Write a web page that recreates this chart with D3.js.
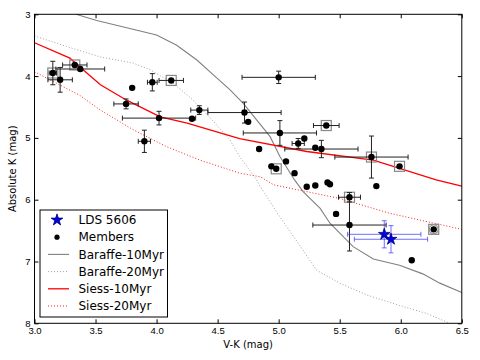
<!DOCTYPE html>
<html>
<head>
<meta charset="utf-8">
<script src="https://cdn.jsdelivr.net/npm/d3@7"></script>
<style>
  body { margin: 0; background: #fff; }
  svg { font-family: "DejaVu Sans", sans-serif; }
</style>
</head>
<body>
<div id="chart"></div>
<script>
// isochrones
const baraffe10X = [3.34, 3.51, 4.0, 4.165, 4.33, 4.465, 4.6, 4.71, 4.93, 5.01, 5.13, 5.2, 5.34, 5.42, 5.61, 5.775, 5.99, 6.18, 6.32, 6.5];
const baraffe10Y = [3.0, 3.1, 3.335, 3.5, 3.74, 3.98, 4.22, 4.44, 4.98, 5.3, 5.68, 5.87, 6.14, 6.38, 6.76, 6.96, 7.06, 7.2, 7.35, 7.5];
const baraffe20X = [3.0, 3.26, 3.54, 3.81, 3.95, 4.14, 4.3, 4.46, 4.6, 4.68, 4.82, 4.85, 5.01, 5.18, 5.31, 5.5, 5.72, 5.97, 6.21, 6.4];
const baraffe20Y = [3.35, 3.52, 3.69, 3.79, 3.9, 4.12, 4.39, 4.72, 5.03, 5.3, 5.68, 5.79, 6.28, 6.76, 7.14, 7.35, 7.54, 7.7, 7.84, 8.0];
const siess10X = [3.0, 3.29, 3.4, 3.54, 3.755, 4.03, 4.25, 4.68, 5.23, 5.775, 6.29, 6.5];
const siess10Y = [3.46, 3.71, 3.9, 4.14, 4.39, 4.66, 4.76, 5.01, 5.22, 5.36, 5.68, 5.78];
const siess20X = [3.0, 3.37, 3.54, 3.81, 4.08, 4.355, 4.68, 4.85, 4.96, 5.5, 5.91, 6.5];
const siess20Y = [3.93, 4.31, 4.55, 4.87, 5.14, 5.36, 5.57, 5.63, 5.76, 5.98, 6.22, 6.48];

// members: V-K, abs K, errors, boxed flag
const memberVK   = [3.15, 3.21, 3.33, 3.375, 3.80, 3.75, 3.965, 4.12, 4.02, 4.29, 3.90, 4.35, 4.72, 5.00, 4.75, 5.39, 5.01, 4.84, 5.21, 5.16, 5.30, 5.35, 5.76, 5.99, 4.94, 4.98, 5.06, 5.13, 5.23, 5.30, 5.40, 5.42, 5.80, 5.58, 5.47, 5.58, 6.09, 6.27];
const memberK    = [3.95, 4.06, 3.82, 3.885, 4.19, 4.45, 4.10, 4.07, 4.68, 4.69, 5.055, 4.55, 4.59, 4.02, 4.74, 4.80, 4.92, 5.18, 5.01, 5.09, 5.16, 5.18, 5.31, 5.46, 5.46, 5.50, 5.38, 5.57, 5.79, 5.77, 5.72, 5.75, 5.78, 5.96, 6.23, 6.41, 6.98, 6.48];
const memberVKerr = [0.03, 0.10, 0.10, 0.20, 0, 0.10, 0.04, 0.10, 0.30, 0, 0.05, 0.07, 0.30, 0.30, 0, 0.105, 0.30, 0, 0, 0.05, 0, 0.30, 0.30, 0, 0, 0, 0, 0, 0, 0, 0, 0, 0, 0.09, 0, 0.30, 0, 0];
const memberKerr  = [0.19, 0.20, 0, 0, 0, 0.08, 0.14, 0, 0.11, 0, 0.18, 0.07, 0.17, 0.10, 0, 0, 0.20, 0, 0, 0.08, 0, 0.14, 0.34, 0, 0, 0, 0, 0, 0, 0, 0, 0, 0, 0.075, 0, 0.42, 0, 0];
const memberBoxed = [1, 0, 1, 0, 0, 0, 0, 1, 0, 0, 0, 0, 0, 0, 0, 1, 0, 0, 0, 0, 0, 0, 1, 1, 0, 1, 0, 0, 0, 0, 0, 0, 0, 1, 0, 0, 0, 1];
const ringedIdx = [37];

// LDS 5606 pair
const ldsVK = [5.865, 5.92];
const ldsK = [6.56, 6.64];
const ldsVKerr = [0.30, 0.30];
const ldsKerr = [0.22, 0.22];

const xTicks = [3.0, 3.5, 4.0, 4.5, 5.0, 5.5, 6.0, 6.5];
const yTicks = [3, 4, 5, 6, 7, 8];

const legendLabels = ["LDS 5606", "Members", "Baraffe-10Myr", "Baraffe-20Myr", "Siess-10Myr", "Siess-20Myr"];

const W = 480, H = 360;
const margin = {top: 14.3, right: 18.2, bottom: 36.7, left: 34.5};
const iw = W - margin.left - margin.right,
      ih = H - margin.top - margin.bottom;

const svg = d3.select("#chart").append("svg")
    .attr("width", W)
    .attr("height", H);

const g = svg.append("g")
    .attr("transform", "translate(" + margin.left + "," + margin.top + ")");

const x = d3.scaleLinear().domain([3, 6.5]).range([0, iw]);
const y = d3.scaleLinear().domain([3, 8]).range([0, ih]);

svg.append("defs").append("clipPath").attr("id", "clip")
  .append("rect").attr("width", iw).attr("height", ih);

const plot = g.append("g").attr("clip-path", "url(#clip)");

// isochrone curves
const line = d3.line().x(d => x(d[0])).y(d => y(d[1]));
const curves = [
  {xs: baraffe10X, ys: baraffe10Y, color: "#808080", dash: null, w: 1.1},
  {xs: baraffe20X, ys: baraffe20Y, color: "#a0a0a0", dash: "1,2", w: 1},
  {xs: siess10X, ys: siess10Y, color: "#ff0000", dash: null, w: 1.3},
  {xs: siess20X, ys: siess20Y, color: "#ff2020", dash: "1,2", w: 1}
];
curves.forEach(function(c) {
  plot.append("path")
    .datum(d3.zip(c.xs, c.ys))
    .attr("d", line)
    .attr("fill", "none")
    .attr("stroke", c.color)
    .attr("stroke-width", c.w)
    .attr("stroke-dasharray", c.dash);
});

const members = memberVK.map(function(v, i) {
  return {vk: v, k: memberK[i], ex: memberVKerr[i], ey: memberKerr[i], boxed: memberBoxed[i], ringed: ringedIdx.includes(i)};
});

// gray square markers
plot.selectAll(".box")
  .data(members.filter(d => d.boxed))
  .enter().append("rect")
  .attr("class", "box")
  .attr("x", d => x(d.vk) - 5)
  .attr("y", d => y(d.k) - 5)
  .attr("width", 10)
  .attr("height", 10)
  .attr("fill", "none")
  .attr("stroke", "#888")
  .attr("stroke-width", 1.2);

plot.selectAll(".ring")
  .data(members.filter(d => d.ringed))
  .enter().append("circle")
  .attr("cx", d => x(d.vk))
  .attr("cy", d => y(d.k))
  .attr("r", 4.5)
  .attr("fill", "none")
  .attr("stroke", "#999")
  .attr("stroke-width", 1.5);

function errorBars(sel, data, color) {
  const cap = 2.5;
  data.forEach(function(d) {
    const cx = x(d.vk), cy = y(d.k);
    if (d.ex > 0) {
      const x0 = x(d.vk - d.ex), x1 = x(d.vk + d.ex);
      sel.append("line").attr("x1", x0).attr("x2", x1).attr("y1", cy).attr("y2", cy);
      sel.append("line").attr("x1", x0).attr("x2", x0).attr("y1", cy - cap).attr("y2", cy + cap);
      sel.append("line").attr("x1", x1).attr("x2", x1).attr("y1", cy - cap).attr("y2", cy + cap);
    }
    if (d.ey > 0) {
      const y0 = y(d.k - d.ey), y1 = y(d.k + d.ey);
      sel.append("line").attr("x1", cx).attr("x2", cx).attr("y1", y0).attr("y2", y1);
      sel.append("line").attr("x1", cx - cap).attr("x2", cx + cap).attr("y1", y0).attr("y2", y0);
      sel.append("line").attr("x1", cx - cap).attr("x2", cx + cap).attr("y1", y1).attr("y2", y1);
    }
  });
  sel.selectAll("line").attr("stroke", color).attr("stroke-width", 1);
}

errorBars(plot.append("g"), members, "#222");

plot.selectAll(".dot")
  .data(members)
  .enter().append("circle")
  .attr("class", "dot")
  .attr("cx", d => x(d.vk))
  .attr("cy", d => y(d.k))
  .attr("r", 3.2)
  .attr("fill", "#000");

const lds = ldsVK.map(function(v, i) {
  return {vk: v, k: ldsK[i], ex: ldsVKerr[i], ey: ldsKerr[i]};
});
errorBars(plot.append("g"), lds, "rgba(60,60,255,0.75)");

const star = d3.symbol().type(d3.symbolStar).size(42);
plot.selectAll(".star")
  .data(lds)
  .enter().append("path")
  .attr("d", star)
  .attr("transform", d => "translate(" + x(d.vk) + "," + y(d.k) + ")")
  .attr("fill", "#0000e0")
  .attr("stroke", "#000080")
  .attr("stroke-width", 0.8);

// axes with inward ticks
function styleAxis(sel) {
  sel.select(".domain").remove();
  sel.selectAll("line").attr("stroke", "#000");
  sel.selectAll("text").attr("font-size", "9.5px").attr("fill", "#000");
}
g.append("g").attr("transform", "translate(0," + ih + ")")
  .call(d3.axisBottom(x).tickValues(xTicks).tickFormat(d3.format(".1f")).tickSizeInner(-4).tickSizeOuter(0).tickPadding(4))
  .call(styleAxis);
g.append("g")
  .call(d3.axisTop(x).tickValues(xTicks).tickFormat("").tickSizeInner(-4).tickSizeOuter(0))
  .call(styleAxis);
g.append("g")
  .call(d3.axisLeft(y).tickValues(yTicks).tickFormat(d3.format("d")).tickSizeInner(-4).tickSizeOuter(0).tickPadding(4))
  .call(styleAxis);
g.append("g").attr("transform", "translate(" + iw + ",0)")
  .call(d3.axisRight(y).tickValues(yTicks).tickFormat("").tickSizeInner(-4).tickSizeOuter(0))
  .call(styleAxis);

g.append("rect")
  .attr("width", iw).attr("height", ih)
  .attr("fill", "none").attr("stroke", "#000").attr("stroke-width", 1);

svg.append("text")
  .attr("x", margin.left + iw / 2)
  .attr("y", 348)
  .attr("text-anchor", "middle")
  .attr("font-size", "10px")
  .text("V-K (mag)");

svg.append("text")
  .attr("transform", "translate(16," + (margin.top + ih / 2) + ") rotate(-90)")
  .attr("text-anchor", "middle")
  .attr("font-size", "10px")
  .text("Absolute K (mag)");

// legend
const lg = svg.append("g").attr("transform", "translate(40,210)");
lg.append("rect").attr("width", 127.5).attr("height", 107)
  .attr("fill", "#fff").attr("stroke", "#000").attr("stroke-width", 1);
const rowY = i => 10 + i * 17.2;
legendLabels.forEach(function(lab, i) {
  lg.append("text")
    .attr("x", 38.5)
    .attr("y", rowY(i))
    .attr("dy", "0.35em")
    .attr("font-size", "12px")
    .text(lab);
});
lg.append("path")
  .attr("d", star)
  .attr("transform", "translate(17," + rowY(0) + ")")
  .attr("fill", "#0000e0").attr("stroke", "#000080").attr("stroke-width", 0.8);
lg.append("circle").attr("cx", 17).attr("cy", rowY(1)).attr("r", 2.6).attr("fill", "#000");
curves.forEach(function(c, j) {
  lg.append("line")
    .attr("x1", 8).attr("x2", 29)
    .attr("y1", rowY(j + 2)).attr("y2", rowY(j + 2))
    .attr("stroke", c.color)
    .attr("stroke-width", c.w)
    .attr("stroke-dasharray", c.dash);
});
</script>
</body>
</html>
